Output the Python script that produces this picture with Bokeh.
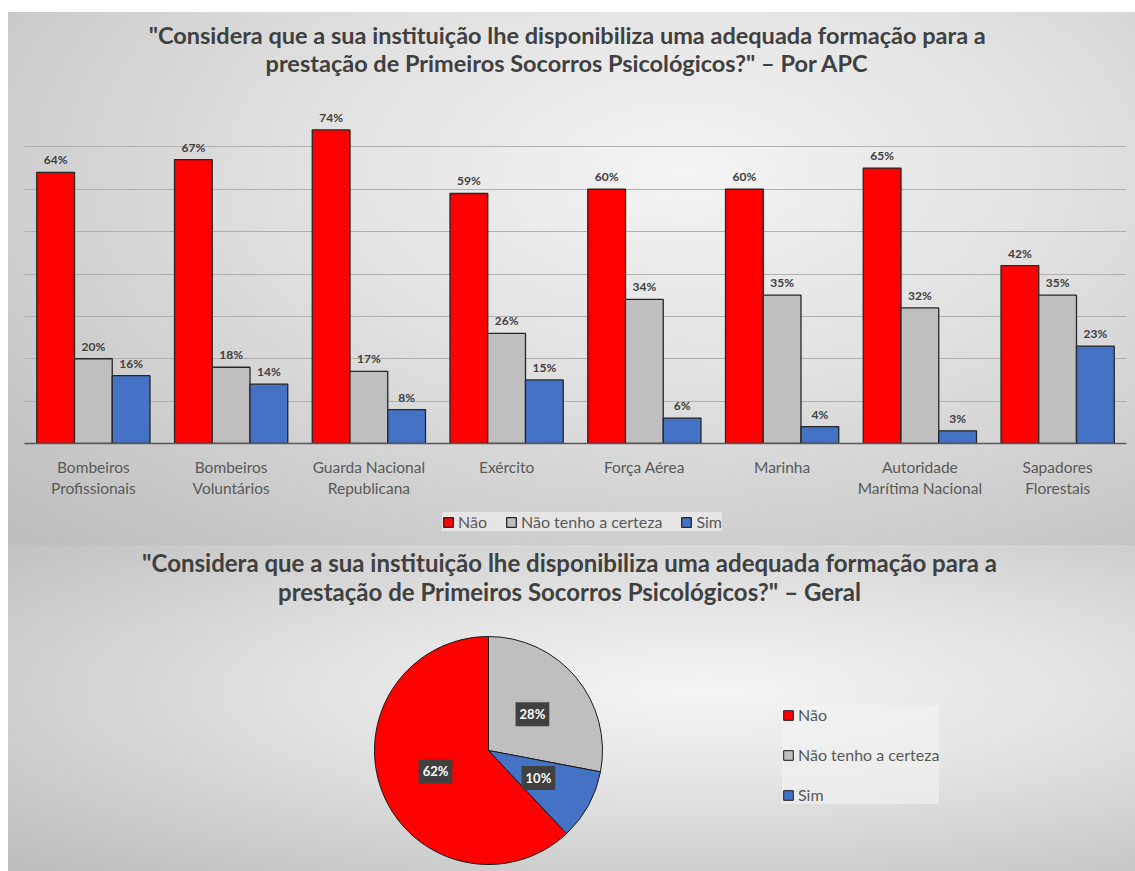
import math
from bokeh.plotting import figure
from bokeh.models import (ColumnDataSource, FactorRange, Range1d, FixedTicker,
                          LabelSet, Label, Legend, LegendItem)
from bokeh.transform import dodge
from bokeh.layouts import column
from bokeh.embed import file_html
from bokeh.resources import INLINE
from bokeh.core.properties import value

# ---------------- data ----------------
categories = ["Bombeiros\nProfissionais", "Bombeiros\nVoluntários",
              "Guarda Nacional\nRepublicana", "Exército", "Força Aérea",
              "Marinha", "Autoridade\nMarítima Nacional", "Sapadores\nFlorestais"]
series_names = ["Não", "Não tenho a certeza", "Sim"]
nao = [64, 67, 74, 59, 60, 60, 65, 42]
nao_tenho = [20, 18, 17, 26, 34, 35, 32, 35]
sim = [16, 14, 8, 15, 6, 4, 3, 23]
y_ticks = [0, 10, 20, 30, 40, 50, 60, 70, 80]

pie_labels = ["Não", "Não tenho a certeza", "Sim"]
pie_values = [62, 28, 10]

title_top = ['"Considera que a sua instituição lhe disponibiliza uma adequada formação para a',
             'prestação de Primeiros Socorros Psicológicos?" – Por APC']
title_bottom = ['"Considera que a sua instituição lhe disponibiliza uma adequada formação para a',
                'prestação de Primeiros Socorros Psicológicos?" – Geral']

# ---------------- style ----------------
FONT = "Lato"
RED, GRAY, BLUE = "#FF0000", "#BFBFBF", "#4472C4"
colors = [RED, GRAY, BLUE]
TITLE_C = "#404040"
LABEL_C = "#595959"
W = 1127
HT, HB, HL = 92, 396, 45      # title strip, bar chart, legend strip
H2 = 326
BG1 = "radial-gradient(ellipse farthest-corner at 60% 30%, #f4f4f4 0%, #e1e1e1 40%, #bcbcbc 100%)"
BG2 = "radial-gradient(ellipse farthest-corner at 62% 45%, #f5f5f5 0%, #e2e2e2 40%, #bcbcbc 100%)"


def bare(fig):
    fig.border_fill_color = None
    fig.background_fill_color = None
    fig.outline_line_color = None
    return fig


# ---------------- title strip (top) ----------------
t1 = bare(figure(width=W, height=HT, x_range=Range1d(0, W), y_range=Range1d(0, HT),
                 output_backend="svg", toolbar_location=None, min_border=0,
                 x_axis_location=None, y_axis_location=None))
t1.grid.visible = False
for txt, yy in zip(title_top, [70, 42]):
    t1.add_layout(Label(x=555, y=yy, text=txt, text_align="center", text_baseline="middle",
                        text_font=FONT, text_font_size="23.5px", text_font_style="bold",
                        text_color=TITLE_C))

# ---------------- bar chart ----------------
p1 = bare(figure(x_range=FactorRange(*categories), y_range=Range1d(y_ticks[0], y_ticks[-1]),
                 width=W, height=HB, output_backend="svg", toolbar_location=None,
                 min_border_left=16, min_border_right=9, min_border_top=0, min_border_bottom=56))
p1.yaxis.visible = False
p1.xgrid.visible = False
p1.ygrid.ticker = FixedTicker(ticks=y_ticks[1:])
p1.ygrid.grid_line_color = "#b0b0b0"
p1.ygrid.grid_line_width = 1

ax = p1.xaxis[0]
ax.major_tick_line_color = None
ax.minor_tick_line_color = None
ax.axis_line_color = "#595959"
ax.axis_line_width = 1.5
ax.major_label_text_font = FONT
ax.major_label_text_font_size = "15.5px"
ax.major_label_text_color = LABEL_C
ax.major_label_standoff = 8

src = ColumnDataSource(dict(
    cat=categories,
    s0=nao, s1=nao_tenho, s2=sim,
    l0=[f"{v}%" for v in nao], l1=[f"{v}%" for v in nao_tenho], l2=[f"{v}%" for v in sim],
))
bar_w = 0.274
offsets = [-bar_w, 0.0, bar_w]
for i, (name, col, off) in enumerate(zip(series_names, colors, offsets)):
    p1.vbar(x=dodge("cat", off, range=p1.x_range), top=f"s{i}", width=bar_w, source=src,
            fill_color=col, line_color="#262626", line_width=1.3)
    p1.add_layout(LabelSet(x=dodge("cat", off, range=p1.x_range), y=f"s{i}", text=f"l{i}",
                           source=src, text_align="center", text_baseline="bottom", y_offset=5,
                           text_font=value(FONT), text_font_size="12px",
                           text_font_style="bold", text_color=TITLE_C))

# ---------------- legend strip (bar chart legend) ----------------
l1 = bare(figure(x_range=p1.x_range, y_range=Range1d(0, 1), width=W, height=HL,
                 output_backend="svg", toolbar_location=None, min_border=0,
                 x_axis_location=None, y_axis_location=None))
l1.grid.visible = False
items = []
for i, (name, col, off) in enumerate(zip(series_names, colors, offsets)):
    r = l1.vbar(x=dodge("cat", off, range=p1.x_range), top=f"s{i}", width=bar_w, source=src,
                fill_color=col, line_color="#262626", line_width=1.3)
    r.visible = False  # only its legend entry is shown here
    items.append(LegendItem(label=name, renderers=[r]))
leg1 = Legend(items=items, orientation="horizontal", location=(418, 14),
              glyph_width=12, glyph_height=12, label_standoff=4, spacing=18,
              padding=5, margin=0, label_text_font=FONT, label_text_font_size="16px",
              label_text_color=LABEL_C, background_fill_color="#f4f4f4",
              background_fill_alpha=0.6, border_line_color=None,
              inactive_fill_alpha=0.0, click_policy="none")
l1.add_layout(leg1, "center")

top_panel = column(t1, p1, l1, spacing=0, margin=(12, 0, 0, 8), styles={"background": BG1})

# ---------------- pie chart ----------------
p2 = bare(figure(x_range=Range1d(0, W), y_range=Range1d(0, H2), width=W, height=H2,
                 output_backend="svg", toolbar_location=None, min_border=0,
                 x_axis_location=None, y_axis_location=None, margin=(0, 0, 0, 8)))
p2.styles = {"background": BG2}
p2.grid.visible = False

cx, cy, R = 480, 121, 114
first_slice = 136.8  # Excel "angle of first slice", clockwise from 12 o'clock
total = sum(pie_values)
starts, ends, mids = [], [], []
acc = 0.0
for v in pie_values:
    a0 = 90 - first_slice - acc / total * 360
    a1 = 90 - first_slice - (acc + v) / total * 360
    starts.append(math.radians(a0))
    ends.append(math.radians(a1))
    mids.append(math.radians((a0 + a1) / 2))
    acc += v

pie_items = []
for i in range(len(pie_values)):
    r = p2.wedge(x=cx, y=cy, radius=R, radius_units="screen", start_angle=starts[i], end_angle=ends[i],
                 direction="clock", fill_color=colors[i], line_color="#1a1a1a", line_width=1)
    pie_items.append(LegendItem(label=pie_labels[i], renderers=[r]))
    p2.add_layout(Label(x=cx + 0.5 * R * math.cos(mids[i]), y=cy + 0.5 * R * math.sin(mids[i]),
                        text=f"{pie_values[i]}%", text_align="center", text_baseline="middle",
                        text_font=FONT, text_font_size="13px", text_font_style="bold",
                        text_color="white", background_fill_color="#404040", padding=4))

leg2 = Legend(items=pie_items, orientation="vertical", location=(774, 67),
              glyph_width=12, glyph_height=12, label_standoff=4, spacing=21,
              padding=11, margin=0, label_text_font=FONT, label_text_font_size="16px",
              label_text_color=LABEL_C, background_fill_color="#f4f4f4",
              background_fill_alpha=0.6, border_line_color=None, click_policy="none")
p2.add_layout(leg2, "center")

for txt, yy in zip(title_bottom, [309, 280]):
    p2.add_layout(Label(x=561, y=yy, text=txt, text_align="center", text_baseline="middle",
                        text_font=FONT, text_font_size="24px", text_font_style="bold",
                        text_color=TITLE_C))

layout = column(top_panel, p2, spacing=0)
open("out.html", "w").write(file_html(layout, INLINE))
